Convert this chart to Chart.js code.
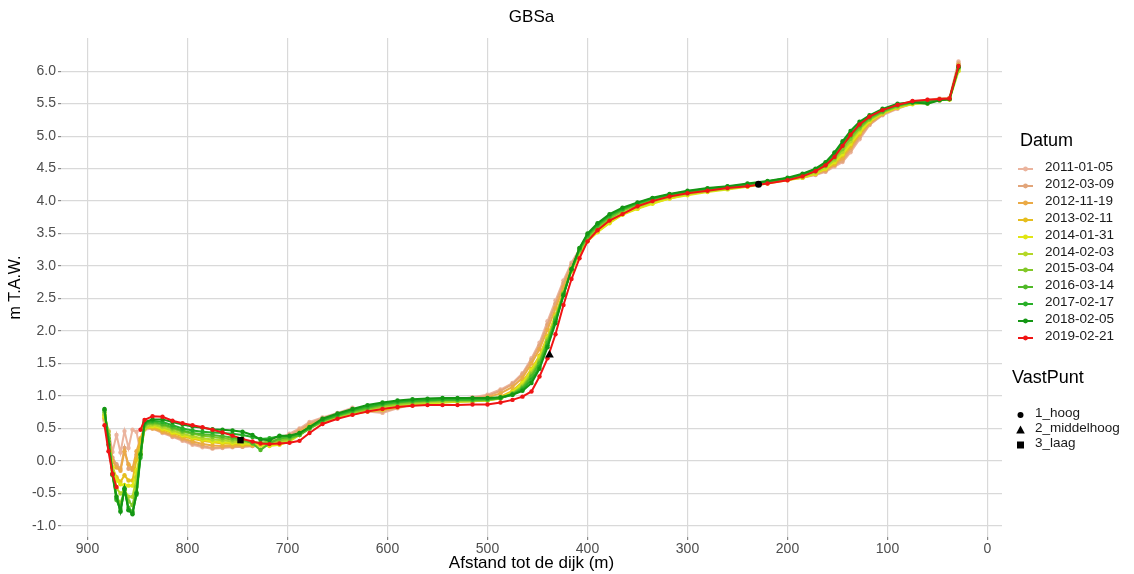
<!DOCTYPE html>
<html>
<head>
<meta charset="utf-8">
<title>GBSa</title>
<script src="https://cdn.jsdelivr.net/npm/chart.js@4.4.1/dist/chart.umd.min.js"></script>
<style>
body { margin: 0; background: #fff; font-family: "Liberation Sans", Arial, sans-serif; }
#wrap { position: relative; width: 1134px; height: 574px; }
.lg-title { position: absolute; font-size: 18px; line-height: 20px; color: #000; }
.lg-item { position: absolute; font-size: 13.5px; line-height: 16px; color: #1a1a1a; white-space: nowrap; }
.lg-key { position: absolute; }
</style>
</head>
<body>
<div id="wrap">
  <canvas id="myChart" width="1134" height="574"></canvas>
  <div id="legend"></div>
</div>
<script>
// distances (m) shared by all profiles
var afstand = [883, 879, 875, 871, 867, 863, 859, 855, 851, 847, 843,
  835, 825, 815, 805, 795, 785, 775, 765, 755, 745, 735, 727, 718, 708, 698, 688, 678,
  665, 650, 635, 620, 605, 590, 575, 560, 545, 530, 515, 500, 487, 475, 465, 456,
  448, 440, 432, 424, 416, 408, 400, 390, 378, 365,
  350, 335, 318, 300, 280, 260, 240, 220, 200, 185, 172, 162,
  153, 145, 137, 128, 118, 105, 90, 75, 60, 48, 38, 29];

var datums = ['2011-01-05', '2012-03-09', '2012-11-19', '2013-02-11', '2014-01-31', '2014-02-03',
  '2015-03-04', '2016-03-14', '2017-02-17', '2018-02-05', '2019-02-21'];

var kleuren = ['#EBB49E', '#E2A57A', '#EBAA46', '#E6BE1E', '#E1E614', '#B4D728',
  '#82C828', '#50B928', '#28AF28', '#149614', '#F01414'];

var h2011_01_05 = [0.62, 0.47, 0.14, 0.40, 0.13, 0.46, 0.20, 0.48, 0.45, 0.12, 0.48,
  0.50, 0.43, 0.37, 0.31, 0.25, 0.21, 0.19, 0.20, 0.21, 0.22, 0.23, 0.26, 0.30, 0.35, 0.42, 0.50, 0.60,
  0.67, 0.74, 0.82, 0.76, 0.74, 0.81, 0.87, 0.90, 0.92, 0.95, 0.98, 1.02, 1.10, 1.20, 1.35, 1.58,
  1.82, 2.15, 2.47, 2.78, 3.05, 3.26, 3.42, 3.55, 3.68, 3.81,
  3.90, 3.98, 4.06, 4.11, 4.16, 4.20, 4.25, 4.29, 4.33, 4.36, 4.40, 4.45,
  4.53, 4.60, 4.75, 4.95, 5.17, 5.32, 5.42, 5.50, 5.56, 5.58, 5.59, 6.15];

var h2012_03_09 = [0.66, 0.45, 0.05, -0.05, -0.12, 0.20, -0.12, -0.14, 0.10, 0.30, 0.50,
  0.52, 0.45, 0.38, 0.33, 0.27, 0.23, 0.20, 0.21, 0.22, 0.22, 0.23, 0.25, 0.28, 0.33, 0.40, 0.48, 0.58,
  0.66, 0.72, 0.80, 0.77, 0.76, 0.82, 0.88, 0.91, 0.93, 0.95, 0.97, 1.00, 1.08, 1.18, 1.33, 1.55,
  1.78, 2.10, 2.42, 2.74, 3.02, 3.25, 3.40, 3.54, 3.68, 3.80,
  3.90, 3.98, 4.05, 4.11, 4.16, 4.20, 4.24, 4.29, 4.33, 4.36, 4.41, 4.46,
  4.55, 4.62, 4.78, 4.98, 5.18, 5.33, 5.43, 5.50, 5.55, 5.57, 5.58, 6.12];

var h2012_11_19 = [0.65, 0.40, 0.00, -0.10, -0.15, 0.15, -0.05, -0.12, 0.15, 0.35, 0.52,
  0.50, 0.45, 0.40, 0.35, 0.30, 0.26, 0.24, 0.23, 0.23, 0.24, 0.24, 0.25, 0.27, 0.30, 0.36, 0.45, 0.55,
  0.64, 0.70, 0.76, 0.78, 0.79, 0.83, 0.87, 0.90, 0.92, 0.93, 0.95, 0.98, 1.04, 1.14, 1.28, 1.50,
  1.72, 2.02, 2.35, 2.68, 2.98, 3.22, 3.40, 3.54, 3.68, 3.80,
  3.89, 3.97, 4.05, 4.10, 4.15, 4.19, 4.24, 4.29, 4.33, 4.37, 4.42, 4.48,
  4.56, 4.66, 4.82, 5.02, 5.20, 5.34, 5.44, 5.50, 5.54, 5.57, 5.58, 6.10];

var h2013_02_11 = [0.70, 0.35, -0.10, -0.25, -0.32, -0.22, -0.30, -0.30, 0.02, 0.32, 0.50,
  0.52, 0.48, 0.43, 0.38, 0.34, 0.31, 0.29, 0.27, 0.26, 0.25, 0.25, 0.24, 0.24, 0.27, 0.32, 0.42, 0.53,
  0.62, 0.68, 0.73, 0.77, 0.80, 0.84, 0.87, 0.89, 0.90, 0.91, 0.92, 0.94, 0.99, 1.08, 1.22, 1.42,
  1.62, 1.92, 2.25, 2.60, 2.93, 3.20, 3.38, 3.53, 3.67, 3.80,
  3.89, 3.97, 4.04, 4.10, 4.15, 4.19, 4.23, 4.28, 4.33, 4.37, 4.43, 4.50,
  4.58, 4.70, 4.85, 5.04, 5.22, 5.35, 5.44, 5.50, 5.53, 5.56, 5.57, 6.05];

var h2014_01_31 = [0.68, 0.35, -0.10, -0.30, -0.36, -0.37, -0.38, -0.38, -0.15, 0.10, 0.50,
  0.54, 0.50, 0.44, 0.40, 0.36, 0.33, 0.30, 0.29, 0.28, 0.27, 0.26, 0.24, 0.23, 0.25, 0.30, 0.40, 0.52,
  0.60, 0.66, 0.72, 0.76, 0.79, 0.83, 0.86, 0.88, 0.90, 0.91, 0.92, 0.93, 0.97, 1.06, 1.20, 1.40,
  1.60, 1.90, 2.23, 2.58, 2.92, 3.20, 3.38, 3.52, 3.66, 3.79,
  3.88, 3.96, 4.04, 4.09, 4.14, 4.18, 4.22, 4.27, 4.32, 4.36, 4.42, 4.50,
  4.60, 4.72, 4.88, 5.06, 5.23, 5.35, 5.44, 5.49, 5.52, 5.55, 5.56, 6.00];

var h2014_02_03 = [0.72, 0.45, -0.15, -0.42, -0.50, -0.45, -0.55, -0.55, -0.25, 0.15, 0.50,
  0.56, 0.52, 0.47, 0.42, 0.38, 0.35, 0.33, 0.32, 0.30, 0.29, 0.28, 0.27, 0.27, 0.29, 0.32, 0.40, 0.50,
  0.60, 0.68, 0.74, 0.79, 0.83, 0.86, 0.88, 0.90, 0.91, 0.92, 0.92, 0.93, 0.96, 1.04, 1.16, 1.36,
  1.56, 1.88, 2.22, 2.58, 2.93, 3.22, 3.42, 3.57, 3.70, 3.82,
  3.91, 3.99, 4.06, 4.11, 4.15, 4.19, 4.23, 4.28, 4.33, 4.37, 4.44, 4.52,
  4.63, 4.76, 4.92, 5.10, 5.25, 5.36, 5.45, 5.50, 5.50, 5.56, 5.57, 6.02];

var h2015_03_04 = [0.75, 0.40, -0.20, -0.55, -0.65, -0.45, -0.62, -0.68, -0.40, 0.12, 0.54,
  0.58, 0.55, 0.50, 0.45, 0.42, 0.39, 0.37, 0.35, 0.33, 0.31, 0.29, 0.28, 0.30, 0.32, 0.34, 0.40, 0.50,
  0.61, 0.69, 0.75, 0.80, 0.85, 0.88, 0.90, 0.92, 0.93, 0.93, 0.93, 0.94, 0.97, 1.04, 1.14, 1.33,
  1.53, 1.85, 2.20, 2.58, 2.95, 3.24, 3.44, 3.60, 3.73, 3.85,
  3.94, 4.02, 4.08, 4.13, 4.17, 4.21, 4.25, 4.29, 4.34, 4.39, 4.46, 4.54,
  4.66, 4.80, 4.96, 5.12, 5.26, 5.37, 5.46, 5.51, 5.54, 5.56, 5.57, 6.05];

var h2016_03_14 = [0.78, 0.35, -0.22, -0.60, -0.74, -0.44, -0.72, -0.78, -0.48, 0.08, 0.56,
  0.60, 0.57, 0.52, 0.47, 0.43, 0.41, 0.40, 0.38, 0.36, 0.33, 0.27, 0.17, 0.27, 0.35, 0.36, 0.40, 0.50,
  0.62, 0.70, 0.77, 0.82, 0.87, 0.90, 0.92, 0.93, 0.94, 0.94, 0.94, 0.95, 0.97, 1.03, 1.12, 1.30,
  1.50, 1.82, 2.18, 2.57, 2.95, 3.25, 3.46, 3.62, 3.76, 3.87,
  3.96, 4.03, 4.09, 4.14, 4.18, 4.22, 4.25, 4.30, 4.35, 4.40, 4.48, 4.56,
  4.70, 4.85, 5.00, 5.15, 5.28, 5.38, 5.47, 5.52, 5.53, 5.56, 5.57, 6.08];

var h2017_02_17 = [0.79, 0.30, -0.20, -0.58, -0.77, -0.43, -0.75, -0.80, -0.52, 0.05, 0.58,
  0.62, 0.60, 0.55, 0.50, 0.47, 0.45, 0.44, 0.43, 0.42, 0.40, 0.37, 0.34, 0.35, 0.38, 0.38, 0.42, 0.52,
  0.63, 0.71, 0.78, 0.84, 0.88, 0.91, 0.93, 0.94, 0.95, 0.95, 0.95, 0.95, 0.97, 1.02, 1.10, 1.25,
  1.45, 1.78, 2.15, 2.55, 2.95, 3.27, 3.48, 3.64, 3.78, 3.88,
  3.97, 4.04, 4.10, 4.15, 4.19, 4.22, 4.26, 4.30, 4.35, 4.41, 4.49, 4.58,
  4.72, 4.88, 5.04, 5.18, 5.30, 5.40, 5.48, 5.52, 5.52, 5.56, 5.57, 6.07];

var h2018_02_05 = [0.80, 0.25, -0.20, -0.55, -0.78, -0.42, -0.76, -0.82, -0.50, 0.10, 0.60,
  0.64, 0.64, 0.60, 0.56, 0.53, 0.51, 0.49, 0.48, 0.47, 0.45, 0.40, 0.33, 0.32, 0.39, 0.39, 0.43, 0.52,
  0.65, 0.73, 0.80, 0.86, 0.90, 0.93, 0.95, 0.96, 0.97, 0.97, 0.97, 0.97, 0.98, 1.02, 1.08, 1.20,
  1.42, 1.75, 2.12, 2.55, 2.95, 3.28, 3.50, 3.66, 3.80, 3.90,
  3.98, 4.05, 4.11, 4.16, 4.20, 4.23, 4.27, 4.31, 4.36, 4.42, 4.50, 4.60,
  4.75, 4.92, 5.08, 5.22, 5.32, 5.42, 5.50, 5.52, 5.50, 5.55, 5.57, 6.06];

var h2019_02_21 = [0.55, 0.15, -0.20, -0.40, null, null, null, null, null, 0.48, 0.63,
  0.69, 0.68, 0.62, 0.58, 0.55, 0.52, 0.48, 0.44, 0.39, 0.34, 0.30, 0.27, 0.26, 0.27, 0.28, 0.31, 0.43,
  0.57, 0.65, 0.71, 0.76, 0.80, 0.83, 0.85, 0.86, 0.86, 0.86, 0.87, 0.87, 0.90, 0.94, 0.99, 1.07,
  1.30, 1.58, 1.95, 2.40, 2.80, 3.12, 3.38, 3.55, 3.70, 3.80,
  3.92, 4.00, 4.07, 4.12, 4.16, 4.20, 4.23, 4.27, 4.32, 4.38, 4.46, 4.55,
  4.68, 4.85, 5.02, 5.18, 5.30, 5.40, 5.48, 5.54, 5.56, 5.57, 5.58, 6.08];

var hoogtes = [h2011_01_05, h2012_03_09, h2012_11_19, h2013_02_11, h2014_01_31, h2014_02_03,
  h2015_03_04, h2016_03_14, h2017_02_17, h2018_02_05, h2019_02_21];

// fixed points
var vastNamen = ['1_hoog', '2_middelhoog', '3_laag'];
var vastAfstand = [229, 438, 747];
var vastHoogte = [4.26, 1.63, 0.32];
var vastVorm = ['circle', 'triangle', 'rect'];
var vastGrootte = [3.5, 5, 4.5];

var xTicks = [900, 800, 700, 600, 500, 400, 300, 200, 100, 0];
var yTicks = [-1.0, -0.5, 0.0, 0.5, 1.0, 1.5, 2.0, 2.5, 3.0, 3.5, 4.0, 4.5, 5.0, 5.5, 6.0];

var datasets = datums.map(function (d, i) {
  return {
    label: d,
    data: afstand.map(function (x, j) { return { x: x, y: hoogtes[i][j] }; }),
    borderColor: kleuren[i],
    backgroundColor: kleuren[i],
    borderWidth: 2,
    pointRadius: 2.2,
    pointBorderWidth: 0,
    tension: 0,
    order: datums.length - i
  };
});

vastNamen.forEach(function (n, i) {
  datasets.push({
    type: 'scatter',
    label: n,
    data: [{ x: vastAfstand[i], y: vastHoogte[i] }],
    pointStyle: vastVorm[i],
    pointRadius: vastGrootte[i],
    backgroundColor: '#000',
    borderColor: '#000',
    borderWidth: 0,
    order: -1
  });
});

var tickFont = { family: '"Liberation Sans", Arial, sans-serif', size: 14 };
var gridOpts = { color: '#d9d9d9', lineWidth: 1.2, tickColor: '#888', tickLength: 3, drawTicks: true };

var ctx = document.getElementById('myChart').getContext('2d');
var myChart = new Chart(ctx, {
  type: 'line',
  data: { datasets: datasets },
  options: {
    responsive: false,
    animation: false,
    layout: { padding: { left: 0, right: 132, top: 0, bottom: 0 } },
    plugins: {
      legend: { display: false },
      tooltip: { enabled: false },
      title: {
        display: true,
        text: 'GBSa',
        fullSize: false,
        color: '#000',
        font: { family: '"Liberation Sans", Arial, sans-serif', size: 17, weight: 'normal' },
        padding: { top: 7, bottom: 10.6 }
      }
    },
    scales: {
      x: {
        type: 'linear',
        reverse: true,
        min: -14.5,
        max: 926.5,
        grid: gridOpts,
        border: { display: false },
        afterBuildTicks: function (s) { s.ticks = xTicks.map(function (v) { return { value: v }; }); },
        afterFit: function (s) { s.height = 37; },
        ticks: { color: '#4d4d4d', font: tickFont, padding: 1, maxRotation: 0 },
        title: {
          display: true,
          text: 'Afstand tot de dijk (m)',
          color: '#000',
          font: { family: '"Liberation Sans", Arial, sans-serif', size: 17 },
          padding: { top: 0, bottom: 0 }
        }
      },
      y: {
        type: 'linear',
        min: -1.17,
        max: 6.51,
        grid: gridOpts,
        border: { display: false },
        afterBuildTicks: function (s) { s.ticks = yTicks.map(function (v) { return { value: v }; }); },
        afterFit: function (s) { s.width = 61; },
        ticks: {
          color: '#4d4d4d',
          font: tickFont,
          padding: 2,
          callback: function (v) { return Number(v).toFixed(1); }
        },
        title: {
          display: true,
          text: 'm T.A.W.',
          color: '#000',
          font: { family: '"Liberation Sans", Arial, sans-serif', size: 16 },
          padding: { top: 6, bottom: 0 }
        }
      }
    }
  }
});

// legend in the ggplot layout
var lg = document.getElementById('legend');
function addTitle(text, left, cy) {
  var t = document.createElement('div');
  t.className = 'lg-title';
  t.textContent = text;
  t.style.left = left + 'px';
  t.style.top = (cy - 10) + 'px';
  lg.appendChild(t);
}
function addItem(text, keySvg, keyLeft, textLeft, cy) {
  var k = document.createElement('div');
  k.className = 'lg-key';
  k.innerHTML = keySvg;
  k.style.left = keyLeft + 'px';
  k.style.top = (cy - 6) + 'px';
  lg.appendChild(k);
  var t = document.createElement('div');
  t.className = 'lg-item';
  t.textContent = text;
  t.style.left = textLeft + 'px';
  t.style.top = (cy - 8) + 'px';
  lg.appendChild(t);
}

addTitle('Datum', 1020, 140);
datums.forEach(function (d, i) {
  var c = kleuren[i];
  var svg = '<svg width="17" height="12"><line x1="1" y1="6" x2="16" y2="6" stroke="' + c +
    '" stroke-width="2"/><circle cx="8.5" cy="6" r="2.4" fill="' + c + '"/></svg>';
  addItem(d, svg, 1017, 1045, 167 + 16.9 * i);
});

addTitle('VastPunt', 1012, 377);
var vastSvg = [
  '<svg width="17" height="12"><circle cx="8.5" cy="6" r="3" fill="#000"/></svg>',
  '<svg width="17" height="12"><polygon points="8.5,1.5 12.8,9.5 4.2,9.5" fill="#000"/></svg>',
  '<svg width="17" height="12"><rect x="5" y="2.5" width="7" height="7" fill="#000"/></svg>'
];
vastNamen.forEach(function (n, i) {
  addItem(n, vastSvg[i], 1012, 1035, 413 + 15 * i);
});
</script>
</body>
</html>
